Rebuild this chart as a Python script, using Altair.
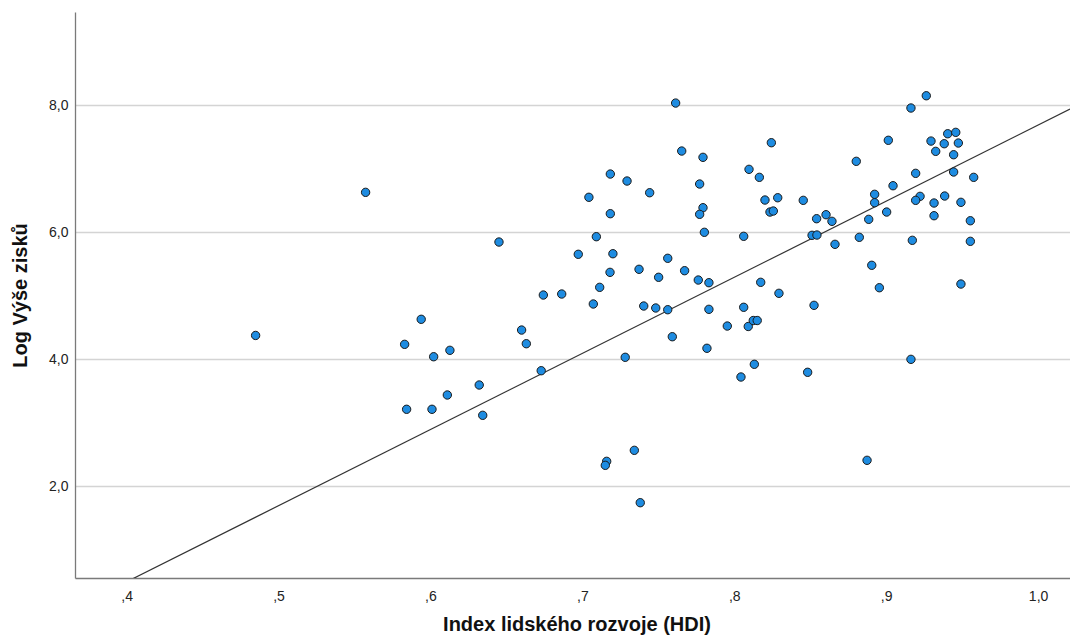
import altair as alt
import pandas as pd

# Index lidského rozvoje (HDI)
hdi = [
    0.5939, 0.5830, 0.6021, 0.6128, 0.6321, 0.6111, 0.5843, 0.6010, 0.6344, 0.4849,
    0.5573, 0.7614, 0.7654, 0.7794, 0.8097, 0.7184, 0.7294, 0.7443, 0.7772, 0.7043,
    0.7184, 0.7794, 0.7772, 0.7803, 0.8062, 0.6451, 0.7092, 0.6973, 0.7201, 0.7562,
    0.7373, 0.7182, 0.7502, 0.7673, 0.7763, 0.7833, 0.6743, 0.6864, 0.7114, 0.7072,
    0.7404, 0.7483, 0.7562, 0.7833, 0.8062, 0.7954, 0.8092, 0.6600, 0.6631, 0.7592,
    0.7820, 0.7282, 0.6729, 0.8044, 0.7342, 0.7160, 0.7151, 0.7381, 0.9264, 0.9163,
    0.8244, 0.9014, 0.9295, 0.9405, 0.9458, 0.9382, 0.9475, 0.9326, 0.9444, 0.8803,
    0.8165, 0.9194, 0.9444, 0.9576, 0.9045, 0.8202, 0.8286, 0.8454, 0.8924, 0.8924,
    0.9223, 0.9194, 0.9315, 0.9385, 0.9492, 0.8235, 0.8257, 0.8542, 0.8604, 0.8643,
    0.8885, 0.9003, 0.9315, 0.9554, 0.8512, 0.8544, 0.8663, 0.8823, 0.9172, 0.9554,
    0.8905, 0.8955, 0.9492, 0.8174, 0.8294, 0.8525, 0.8125, 0.8151, 0.8132, 0.8483,
    0.9163, 0.8874,
]

# Log Výše zisků
log_zisk = [
    4.628, 4.234, 4.039, 4.140, 3.594, 3.437, 3.212, 3.212, 3.117, 4.374,
    6.626, 8.031, 7.276, 7.177, 6.988, 6.914, 6.804, 6.620, 6.757, 6.548,
    6.290, 6.384, 6.280, 5.997, 5.934, 5.844, 5.928, 5.651, 5.660, 5.588,
    5.415, 5.367, 5.289, 5.393, 5.246, 5.204, 5.010, 5.026, 5.131, 4.869,
    4.837, 4.806, 4.779, 4.785, 4.817, 4.522, 4.515, 4.459, 4.244, 4.354,
    4.172, 4.030, 3.819, 3.720, 2.566, 2.393, 2.330, 1.742, 8.146, 7.953,
    7.407, 7.445, 7.433, 7.548, 7.570, 7.391, 7.402, 7.271, 7.218, 7.114,
    6.862, 6.925, 6.946, 6.862, 6.730, 6.505, 6.541, 6.500, 6.595, 6.463,
    6.563, 6.500, 6.458, 6.568, 6.469, 6.316, 6.332, 6.211, 6.274, 6.170,
    6.201, 6.316, 6.258, 6.179, 5.950, 5.954, 5.808, 5.918, 5.871, 5.855,
    5.478, 5.125, 5.183, 5.210, 5.037, 4.848, 4.609, 4.609, 3.920, 3.794,
    3.998, 2.409,
]

# fit line as drawn in the reference
fit_intercept = -4.295
fit_slope = 11.98

x_ticks = [0.4, 0.5, 0.6, 0.7, 0.8, 0.9, 1.0]
y_ticks = [2, 4, 6, 8]
x_domain = [0.366, 1.0210]
y_domain = [0.557, 9.464]

df = pd.DataFrame({"hdi": hdi, "logzisk": log_zisk})
fit_df = pd.DataFrame({"hdi": x_domain})

FONT = "Liberation Sans, Arial, Helvetica, sans-serif"

x_enc = alt.X(
    "hdi:Q",
    scale=alt.Scale(domain=x_domain, nice=False, zero=False),
    axis=alt.Axis(
        values=x_ticks,
        labelExpr="datum.value < 1 ? ',' + format(round(datum.value * 10), 'd') : replace(format(datum.value, '.1f'), '.', ',')",
        grid=False,
        ticks=False,
        tickSize=0,
        labelPadding=11,
        labelFont=FONT,
        labelFontSize=14,
        labelColor="#222222",
        domainColor="#7a7a7a",
        domainWidth=1.3,
        title="Index lidského rozvoje (HDI)",
        titleFont=FONT,
        titleFontSize=20,
        titleFontWeight="bold",
        titleColor="#111111",
        titleX=501.5,
        titleY=52,
        titleAlign="center",
        titleBaseline="alphabetic",
    ),
)

y_enc = alt.Y(
    "logzisk:Q",
    scale=alt.Scale(domain=y_domain, nice=False, zero=False),
    axis=alt.Axis(
        values=y_ticks,
        labelExpr="replace(format(datum.value, '.1f'), '.', ',')",
        grid=True,
        gridColor="#d4d4d4",
        gridWidth=1.5,
        ticks=False,
        tickSize=0,
        labelPadding=7,
        labelFont=FONT,
        labelFontSize=14,
        labelColor="#222222",
        domainColor="#7a7a7a",
        domainWidth=1.3,
        title="Log Výše zisků",
        titleFont=FONT,
        titleFontSize=20,
        titleFontWeight="bold",
        titleColor="#111111",
        titleX=-55,
        titleY=283,
        titleAngle=270,
        titleAlign="center",
        titleBaseline="middle",
    ),
)

fit = alt.Chart(fit_df).transform_calculate(
    logzisk=f"{fit_intercept} + {fit_slope} * datum.hdi"
).mark_line(color="#333333", strokeWidth=1.2, clip=True).encode(x=x_enc, y=y_enc)

points = alt.Chart(df).mark_circle(
    fill="#1e8ce1", stroke="#1a1a1a", strokeWidth=1, size=70, opacity=1
).encode(x=x_enc, y=y_enc)

chart = alt.layer(fit, points).properties(
    width=995,
    height=566,
    padding={"left": 67, "top": 4, "right": 0, "bottom": 57},
    autosize=alt.AutoSizeParams(type="none"),
).configure_view(stroke=None)

chart.save("out.html", embed_options={"renderer": "svg", "actions": False})
